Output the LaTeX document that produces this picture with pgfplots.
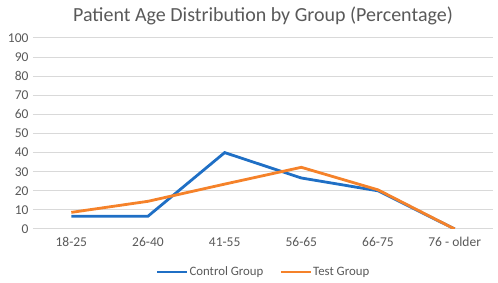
\documentclass[border=0pt]{standalone}
\usepackage{fontspec}
\setmainfont{Carlito}
\usepackage{pgfplots}
\pgfplotsset{compat=1.18}
\definecolor{ctrlblue}{HTML}{1F6FC5}
\definecolor{testorange}{HTML}{F5822A}
\definecolor{txtgray}{HTML}{595959}
\definecolor{gridgray}{HTML}{D9D9D9}
\begin{document}
\begin{tikzpicture}[x=1pt,y=1pt]
\begin{axis}[
  at={(0,0)}, anchor=south west,
  scale only axis,
  width=460pt, height=191pt,
  xmin=-0.5, xmax=5.5, ymin=0, ymax=100,
  xtick={0,1,2,3,4,5},
  xticklabels={18-25,26-40,41-55,56-65,66-75,76 - older},
  ytick={0,10,...,100},
  axis line style={draw=none},
  tick style={draw=none},
  ymajorgrids, major grid style={gridgray, line width=1pt},
  /pgf/number format/assume math mode=true,
  ticklabel style={font=\fontsize{13.5}{15}\selectfont, text=txtgray},
  yticklabel style={xshift=-1pt},
  xticklabel style={yshift=-5pt},
  legend style={at={(0.5,-0.225)}, anchor=center, draw=none, fill=none,
    font=\fontsize{12.8}{15}\selectfont, text=txtgray, legend columns=2,
    /tikz/every even column/.append style={column sep=15pt},
    nodes={inner xsep=1pt}},
  legend image code/.code={\draw[#1, line width=2.8pt] (0pt,0pt) -- (30pt,0pt);},
  title={Patient Age Distribution by Group (Percentage)},
  title style={font=\fontsize{20}{22}\selectfont, text=txtgray, yshift=4pt},
]
\addplot[ctrlblue, line width=2.8pt] coordinates {(0,6.7) (1,6.7) (2,40) (3,26.7) (4,20) (5,0)};
\addlegendentry{Control Group}
\addplot[testorange, line width=2.8pt] coordinates {(0,8.7) (1,14.5) (2,23.5) (3,32.3) (4,20.5) (5,0)};
\addlegendentry{Test Group}
\end{axis}
\pgfresetboundingbox
\path (-33,-54) rectangle (465,229);
\end{tikzpicture}
\end{document}
